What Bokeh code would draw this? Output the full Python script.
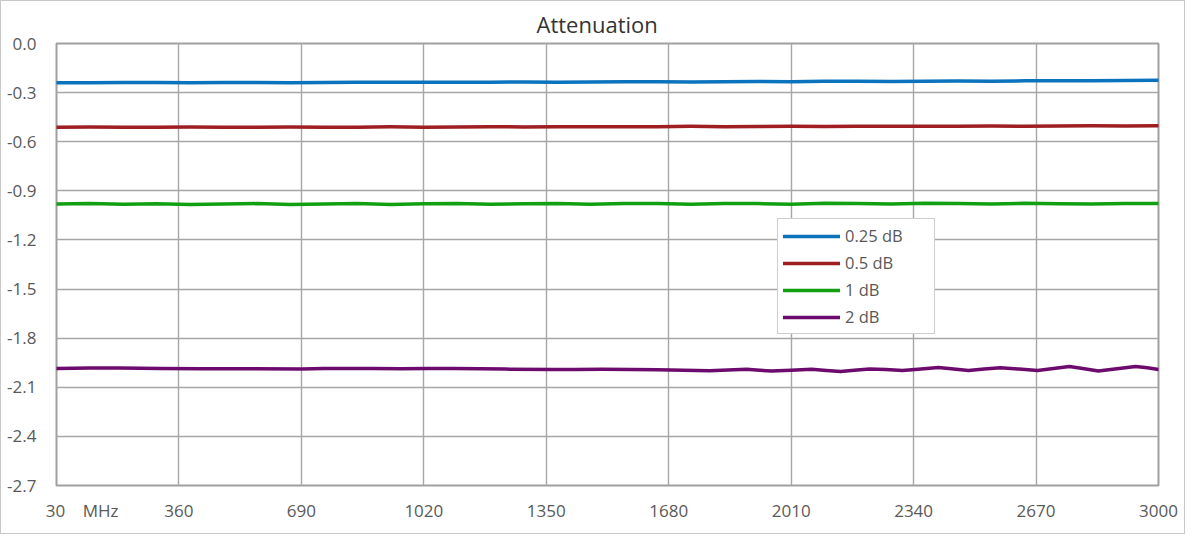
from bokeh.plotting import figure
from bokeh.models import Range1d, FixedTicker, PrintfTickFormatter, Legend, LegendItem, Title
from bokeh.embed import file_html
from bokeh.resources import INLINE

# ---- data ----
x_ticks = [30, 360, 690, 1020, 1350, 1680, 2010, 2340, 2670, 3000]
x_tick_labels = {30: "\u00a0" * 10 + "30\u00a0\u00a0\u00a0\u00a0MHz"}
y_ticks = [0.0, -0.3, -0.6, -0.9, -1.2, -1.5, -1.8, -2.1, -2.4, -2.7]
series_names = ["0.25 dB", "0.5 dB", "1 dB", "2 dB"]

freq_mhz = [30, 120, 210, 300, 390, 480, 570, 660, 750, 840, 930, 1020, 1110, 1200,
            1290, 1380, 1470, 1560, 1650, 1740, 1830, 1920, 2010, 2100, 2190, 2280,
            2370, 2460, 2550, 2640, 2730, 2820, 2910, 3000]

att_025 = [-0.239, -0.239, -0.238, -0.238, -0.239, -0.238, -0.238, -0.239, -0.238, -0.237,
           -0.237, -0.236, -0.237, -0.236, -0.235, -0.236, -0.235, -0.234, -0.234, -0.235,
           -0.233, -0.232, -0.233, -0.231, -0.231, -0.232, -0.230, -0.229, -0.230, -0.228,
           -0.227, -0.228, -0.226, -0.225]

att_05 = [-0.511, -0.510, -0.512, -0.511, -0.510, -0.512, -0.511, -0.510, -0.512, -0.511,
          -0.509, -0.511, -0.510, -0.508, -0.510, -0.509, -0.508, -0.509, -0.508, -0.506,
          -0.508, -0.507, -0.505, -0.507, -0.506, -0.505, -0.506, -0.505, -0.504, -0.506,
          -0.504, -0.503, -0.504, -0.503]

att_1 = [-0.980, -0.978, -0.982, -0.979, -0.983, -0.980, -0.978, -0.984, -0.980, -0.978,
         -0.983, -0.979, -0.977, -0.982, -0.979, -0.977, -0.982, -0.978, -0.977, -0.982,
         -0.977, -0.978, -0.982, -0.976, -0.977, -0.981, -0.976, -0.978, -0.981, -0.976,
         -0.979, -0.980, -0.977, -0.977]

freq_2db = [30, 120, 200, 310, 420, 550, 690, 750, 800, 880, 960, 1030, 1100, 1240, 1370,
            1430, 1500, 1580, 1650, 1720, 1790, 1840, 1890, 1925, 1957, 2010, 2065, 2105,
            2143, 2180, 2221, 2265, 2310, 2360, 2407, 2448, 2488, 2530, 2574, 2624, 2674,
            2717, 2760, 2800, 2838, 2888, 2938, 2970, 3000]
att_2 = [-1.985, -1.983, -1.983, -1.985, -1.987, -1.987, -1.988, -1.986, -1.985, -1.986,
         -1.987, -1.986, -1.986, -1.989, -1.992, -1.991, -1.990, -1.992, -1.993, -1.996,
         -1.999, -1.995, -1.990, -1.996, -2.001, -1.996, -1.990, -1.997, -2.003, -1.996,
         -1.988, -1.992, -1.997, -1.988, -1.979, -1.988, -1.997, -1.989, -1.981, -1.989,
         -1.997, -1.985, -1.973, -1.987, -2.001, -1.987, -1.973, -1.981, -1.992]

colors = ["#0b72bd", "#9e1e22", "#12a012", "#6d0a6e"]

FONT = "Open Sans"
GREY = "#595959"

p = figure(width=1185, height=534, output_backend="svg", toolbar_location=None,
           x_range=Range1d(30, 3000), y_range=Range1d(-2.7, 0.0),
           min_border_left=55, min_border_right=28, min_border_top=42, min_border_bottom=50)
p.title = Title(text="Attenuation", align="left", offset=480, standoff=8,
                vertical_align="middle",
                text_font=FONT, text_font_size="22px", text_font_style="normal",
                text_color="#333333")
p.background_fill_color = "white"
p.border_fill_color = "white"
p.outline_line_color = "#a0a0a0"
p.outline_line_width = 2
p.styles = {"border": "1px solid #c8c8c8"}

# grids
p.xgrid.ticker = FixedTicker(ticks=x_ticks)
p.ygrid.ticker = FixedTicker(ticks=y_ticks)
for g in (p.xgrid, p.ygrid):
    g.grid_line_color = "#a6a6a6"
    g.grid_line_width = 1.4

# axes
p.xaxis.ticker = FixedTicker(ticks=x_ticks)
p.xaxis.major_label_overrides = x_tick_labels
p.yaxis.ticker = FixedTicker(ticks=y_ticks)
p.yaxis.formatter = PrintfTickFormatter(format="%.1f")
for ax in (p.xaxis, p.yaxis):
    ax.axis_line_color = None
    ax.major_tick_line_color = None
    ax.minor_tick_line_color = None
    ax.major_tick_out = 0
    ax.major_tick_in = 0
    ax.minor_tick_out = 0
    ax.minor_tick_in = 0
    ax.major_label_text_font = FONT
    ax.major_label_text_font_size = "17px"
    ax.major_label_text_color = GREY
p.xaxis.major_label_standoff = 13
p.yaxis.major_label_standoff = 20

# lines
renderers = []
for xs, ys, c in [(freq_mhz, att_025, colors[0]), (freq_mhz, att_05, colors[1]),
                  (freq_mhz, att_1, colors[2]), (freq_2db, att_2, colors[3])]:
    r = p.line(xs, ys, line_color=c, line_width=3.5, line_join="round", line_cap="round")
    renderers.append(r)

legend = Legend(items=[LegendItem(label=n, renderers=[r]) for n, r in zip(series_names, renderers)],
                location=(721, 151), orientation="vertical",
                label_text_font=FONT, label_text_font_size="16.5px", label_text_color=GREY,
                glyph_width=57, glyph_height=20, label_height=20, label_standoff=5,
                label_width=84, spacing=4, padding=5, margin=0,
                border_line_color="#a0a0a0", border_line_width=1.5,
                background_fill_color="white", background_fill_alpha=1.0)
p.add_layout(legend, "center")

open("out.html", "w").write(file_html(p, INLINE))
